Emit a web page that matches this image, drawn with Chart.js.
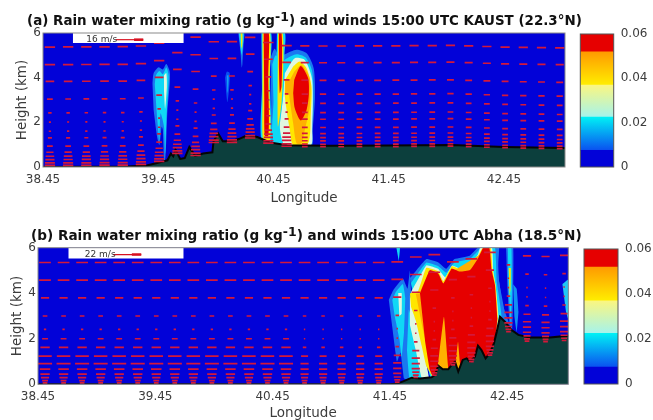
<!DOCTYPE html>
<html>
<head>
<meta charset="utf-8">
<script src="https://cdn.jsdelivr.net/npm/chart.js@4/dist/chart.umd.min.js"></script>
<style>
body { margin: 0; background: #fff; width: 653px; height: 420px; overflow: hidden; position: relative; }
.box { position: absolute; }
canvas { filter: blur(0.4px); }
.ttl { position: absolute; white-space: nowrap; font: bold 13.6px "DejaVu Sans"; color: #111; filter: blur(0.25px); }
.ttl span { font-size: 12.5px; position: relative; top: -4px; }
</style>
</head>
<body>
<div class="ttl" style="left:27px;top:13px;font-size:13.45px">(a) Rain water mixing ratio (g kg<span>-1</span>) and winds 15:00 UTC KAUST (22.3°N)</div>
<div class="ttl" style="left:31px;top:227px;font-size:13.62px">(b) Rain water mixing ratio (g kg<span>-1</span>) and winds 15:00 UTC Abha (18.5°N)</div>
<div class="box" style="left:0;top:0;width:575px;height:205px"><canvas id="mainA"></canvas></div>
<div class="box" style="left:575px;top:0;width:78px;height:205px"><canvas id="barA"></canvas></div>
<div class="box" style="left:0;top:215px;width:579px;height:205px"><canvas id="mainB"></canvas></div>
<div class="box" style="left:579px;top:215px;width:74px;height:205px"><canvas id="barB"></canvas></div>
<script>
const lonTicks = [38.45, 39.45, 40.45, 41.45, 42.45];
const heightTicks = [0, 2, 4, 6];
const cbarTicks = [0, 0.02, 0.04, 0.06];

// colorbar bands, bottom to top, each one a gradient
const cbarTops = [0.0075, 0.0225, 0.037, 0.052, 0.06];
const cbarLow = ['#0202d8', '#0a50f0', '#a5f3ec', '#ffee00', '#e60000'];
const cbarHigh = ['#0202d8', '#00f0f5', '#fbf680', '#ff9a00', '#e60000'];

// terrain
const terrainLonA = [38.45, 39.18, 39.35, 39.44, 39.53, 39.56, 39.58, 39.60, 39.64, 39.68, 39.72, 39.77, 39.84, 39.92, 39.93, 39.97, 40.01, 40.07, 40.15, 40.22, 40.31, 40.42, 40.57, 40.94, 41.45, 42.0, 42.45, 42.98];
const terrainHgtA = [0, 0.02, 0.07, 0.18, 0.3, 0.6, 0.48, 0.78, 0.36, 0.4, 0.9, 0.5, 0.6, 0.66, 1.15, 1.5, 1.15, 1.15, 1.25, 1.42, 1.34, 1.1, 0.97, 0.95, 0.96, 0.98, 0.9, 0.85];
const terrainLonB = [38.45, 41.45, 41.52, 41.578, 41.635, 41.706, 41.805, 41.834, 41.862, 41.9, 41.947, 41.976, 42.004, 42.032, 42.07, 42.103, 42.132, 42.174, 42.2, 42.23, 42.265, 42.3, 42.336, 42.36, 42.388, 42.43, 42.487, 42.544, 42.643, 42.814, 42.98];
const terrainHgtB = [0, 0, 0.04, 0.16, 0.29, 0.26, 0.31, 0.41, 0.82, 0.66, 0.66, 0.85, 1.0, 0.56, 1.07, 1.14, 1.0, 1.21, 1.7, 1.5, 1.14, 1.36, 1.8, 2.31, 2.97, 2.75, 2.38, 2.17, 2.06, 2.06, 2.14];

// wind rows
const windLons = [38.51, 38.668, 38.826, 38.984, 39.142, 39.3, 39.458, 39.616, 39.774, 39.932, 40.09, 40.248, 40.406, 40.564, 40.722, 40.88, 41.038, 41.196, 41.354, 41.512, 41.67, 41.828, 41.986, 42.144, 42.302, 42.46, 42.618, 42.776, 42.934];
const levelsA = [5.37, 4.58, 3.83, 3.04, 2.42, 2.01, 1.6, 1.3, 0.93, 0.66, 0.48, 0.33, 0.18, 0.07];
const speedWestA = [0.09, 0.09, 0.075, 0.05, 0.03, 0.018, 0.02, 0.035, 0.05, 0.063, 0.075, 0.08, 0.087, 0.09];
const speedEastA = [0.08, 0.08, 0.07, 0.06, 0.055, 0.05, 0.05, 0.05, 0.05, 0.05, 0.05, 0.05, 0.05, 0.05];
const levelsB = [5.35, 4.58, 3.8, 3.0, 2.41, 2.0, 1.62, 1.24, 0.91, 0.67, 0.45, 0.29, 0.16, 0.06];
const speedWestB = [0.1, 0.1, 0.07, 0.04, 0.02, 0.05, 0.08, 0.115, 0.12, 0.09, 0.08, 0.07, 0.05, 0.04];
const speedEastB = [0.1, 0.1, 0.07, 0.03, 0.012, 0.012, 0.03, 0.06, 0.07, 0.07, 0.07, 0.06, 0.05, 0.04];

// rain outlines, lon / height pairs
const a1Outer = [[39.40,3.75],[39.41,4.2],[39.45,4.46],[39.49,4.37],[39.52,4.61],[39.55,4.27],[39.55,3.75],[39.53,2.55],[39.52,1.21],[39.51,0.31],[39.50,0.31],[39.49,1.66],[39.48,1.8],[39.46,0.99],[39.44,1.36],[39.41,2.55]];
const a1Cyan = [[39.42,3.7],[39.43,4.1],[39.46,4.3],[39.49,4.15],[39.52,4.45],[39.54,4.1],[39.535,3.4],[39.52,2.0],[39.51,0.6],[39.50,1.8],[39.47,2.4],[39.46,1.2],[39.44,2.2]];
const a1Core = [[39.50,4.1],[39.52,4.2],[39.525,3.6],[39.51,2.6],[39.50,3.4]];
const a2Outer = [[40.03,4.0],[40.045,4.27],[40.07,4.2],[40.065,3.5],[40.05,2.9],[40.04,3.3]];
const a2Cyan = [[40.045,4.1],[40.06,4.1],[40.055,3.4],[40.05,3.3]];
const a3Outer = [[40.145,6],[40.195,6],[40.19,5.5],[40.18,4.6],[40.175,4.45],[40.165,5.1]];
const a3Cyan = [[40.15,6],[40.19,6],[40.18,5.2],[40.172,5]];
const a3Core = [[40.165,6],[40.18,6],[40.178,5.3],[40.17,5.4]];
const colOneCyan = [[40.345,6],[40.43,6],[40.42,4.2],[40.43,2],[40.43,1.15],[40.345,1.2],[40.35,3.5]];
const colOneYellow = [[40.355,6],[40.42,6],[40.415,3.5],[40.42,1.2],[40.36,1.2],[40.355,3]];
const colOneRed = [[40.365,6],[40.41,6],[40.405,4],[40.41,2.5],[40.405,1.4],[40.375,1.4],[40.37,3]];
const cloudOuter = [[40.425,4.9],[40.46,5.3],[40.5,4.95],[40.55,5.05],[40.65,5.25],[40.74,5.08],[40.80,4.4],[40.81,3.1],[40.79,1.6],[40.78,0.95],[40.45,1.0],[40.43,3]];
const cloudCyan = [[40.44,4.6],[40.47,5.0],[40.52,4.7],[40.56,4.85],[40.65,5.05],[40.73,4.9],[40.785,4.3],[40.795,3.1],[40.78,1.6],[40.77,0.95],[40.46,1.0],[40.45,3]];
const cloudPale = [[40.549,4.2],[40.635,4.87],[40.722,4.79],[40.786,3.9],[40.786,1.66],[40.774,0.98],[40.549,0.98],[40.505,1.8],[40.534,3.15]];
const cloudYellow = [[40.621,4.5],[40.679,4.72],[40.737,4.42],[40.78,3.6],[40.774,2.4],[40.751,1.06],[40.621,0.98],[40.592,1.66],[40.549,3.15],[40.55,3.9]];
const cloudBlock = [[40.552,3.9],[40.635,3.9],[40.635,3.23],[40.552,3.23]];
const cloudOrange = [[40.63,4.27],[40.693,4.57],[40.765,3.97],[40.765,2.7],[40.722,1.66],[40.693,1.06],[40.65,1.06],[40.621,1.96],[40.592,3.0],[40.578,3.75]];
const cloudRed = [[40.63,3.9],[40.687,4.52],[40.751,3.97],[40.757,3.23],[40.737,2.55],[40.687,2.08],[40.635,2.63],[40.621,3.3]];
const colTwoCyan = [[40.48,6],[40.55,6],[40.545,5],[40.53,3],[40.49,1.5],[40.47,3]];
const colTwoYellow = [[40.49,6],[40.53,6],[40.535,4.5],[40.52,2.9],[40.49,1.8],[40.485,3]];
const colTwoRed = [[40.497,6],[40.52,6],[40.525,4.8],[40.52,3.6],[40.505,3.3],[40.497,4.5]];

const leftOuter = [[41.44,3.7],[41.48,4.15],[41.56,4.65],[41.6,4.2],[41.62,5.0],[41.63,4.1],[41.66,2.5],[41.72,1.3],[41.78,0.3],[41.6,0.2],[41.57,0.25],[41.54,1.4],[41.51,1.0],[41.47,2.5]];
const leftCyan = [[41.47,3.7],[41.5,4.05],[41.56,4.4],[41.58,3.8],[41.57,2.3],[41.55,1.2],[41.53,2.0],[41.49,3.0]];
const leftCore = [[41.52,4.0],[41.55,4.0],[41.55,3.1],[41.53,3.0]];
const topSpike = [[41.505,6],[41.535,6],[41.525,5.4]];
const lowCyan = [[41.61,3.3],[41.63,3.0],[41.68,2.2],[41.72,1.3],[41.76,0.3],[41.62,0.2],[41.595,1.5]];
const lowPale = [[41.62,3.9],[41.66,3.3],[41.72,2],[41.76,0.9],[41.78,0.3],[41.72,0.3],[41.67,1.5],[41.62,2.6]];
const stormBlue = [[41.62,4.65],[41.76,5.5],[41.86,5.36],[41.93,5.07],[42.0,5.5],[42.13,5.65],[42.2,6],[42.36,6],[42.38,4.5],[42.44,2.7],[42.3,1],[41.8,0.3],[41.76,1.2],[41.7,2.5]];
const stormCyan = [[41.63,4.45],[41.76,5.35],[41.86,5.2],[41.93,4.9],[42.0,5.35],[42.13,5.5],[42.2,5.85],[42.22,6],[42.345,6],[42.36,4.5],[42.4,3],[42.3,1],[41.8,0.3],[41.76,1.2],[41.7,2.6]];
const stormPale = [[41.63,4.05],[41.76,5.22],[41.86,5.07],[41.92,4.7],[41.98,5.22],[42.05,5.08],[42.13,5.2],[42.2,5.7],[42.22,6],[42.32,6],[42.33,5],[42.35,4.36],[42.375,2.9],[42.3,1],[41.82,0.33],[41.76,1.5],[41.7,2.8],[41.64,3.5]];
const stormYellow = [[41.62,4.0],[41.69,4.1],[41.76,5.12],[41.862,4.97],[41.905,4.53],[41.976,5.19],[42.047,5.05],[42.132,5.12],[42.2,5.63],[42.24,6],[42.31,6],[42.325,5.02],[42.35,4.36],[42.37,2.9],[42.3,1],[42.06,0.6],[41.82,0.3],[41.76,0.8],[41.72,1.7],[41.67,2.8],[41.63,3.4]];
const stormOrange = [[41.67,3.98],[41.7,4.0],[41.79,4.97],[41.9,4.4],[42.0,5.0],[42.3,5.9],[42.32,5.0],[42.36,2.9],[42.3,1],[41.83,0.4],[41.79,1.1],[41.74,2.2],[41.7,3.2]];
const stormRed = [[41.706,3.99],[41.79,5.02],[41.862,4.87],[41.905,4.43],[41.976,5.09],[42.047,4.95],[42.132,5.02],[42.2,5.53],[42.245,6],[42.297,6],[42.316,5.02],[42.345,4.36],[42.365,2.9],[42.345,1.8],[42.3,1.0],[42.06,0.6],[42.03,1.87],[42.0,0.6],[41.95,0.6],[41.91,2.97],[41.85,0.5],[41.82,0.33],[41.79,0.63],[41.75,1.87]];
const stripCyan = [[42.33,6],[42.38,6],[42.37,5],[42.41,3.5],[42.47,2.6],[42.44,2.7],[42.38,3.9]];
const stripTwo = [[42.5,4.4],[42.53,4.2],[42.545,3.2],[42.53,2.3],[42.51,3.0]];
const columnOuter = [[42.44,6],[42.5,6],[42.5,4.0],[42.49,2.1],[42.47,2.6],[42.45,4.4]];
const columnCyan = [[42.455,6],[42.485,6],[42.49,4.2],[42.48,2.7],[42.46,4.3]];
const columnYellow = [[42.462,5.1],[42.48,5.1],[42.478,4.2],[42.47,3.9]];
const edgeCloud = [[42.92,4.4],[42.97,4.6],[42.98,2.7],[42.95,3.2]];

// blues to reds, taken from the colorbar
const BLUE = '#1a78f0', CYAN = '#10d8f5', PALE = '#e0f7e0', YEL = '#ffe600', ORG = '#ffb000', RED = '#e60000';
const rainA = [[a1Outer, BLUE], [a1Cyan, CYAN], [a1Core, PALE], [a2Outer, '#0a50f0'], [a2Cyan, '#10a0f5'],
    [a3Outer, BLUE], [a3Cyan, CYAN], [a3Core, YEL],
    [cloudOuter, BLUE], [cloudCyan, CYAN], [cloudPale, PALE], [cloudYellow, YEL], [cloudBlock, ORG], [cloudOrange, ORG], [cloudRed, RED],
    [colOneCyan, CYAN], [colOneYellow, YEL], [colOneRed, RED], [colTwoCyan, CYAN], [colTwoYellow, YEL], [colTwoRed, RED]];
const rainB = [[topSpike, CYAN], [leftOuter, BLUE], [leftCyan, CYAN], [leftCore, PALE], [stripCyan, BLUE], [stripTwo, '#1090f5'],
    [columnOuter, BLUE], [columnCyan, CYAN], [columnYellow, YEL], [edgeCloud, '#20c8f5'],
    [stormBlue, BLUE], [stormCyan, CYAN], [lowCyan, CYAN], [lowPale, PALE], [stormPale, PALE], [stormYellow, YEL], [stormOrange, ORG], [stormRed, RED]];

const tickColor = '#3c3c3c';

function terrainAt(lon, lons, hgts) {
    for (let i = 1; i < lons.length; i++) {
        if (lon <= lons[i]) {
            let f = (lon - lons[i - 1]) / (lons[i] - lons[i - 1]);
            return hgts[i - 1] + f * (hgts[i] - hgts[i - 1]);
        }
    }
    return hgts[hgts.length - 1];
}

// the model levels follow the ground, so each row is lifted by the terrain below it
function buildWind(levels, west, east, split, tLon, tHgt) {
    let pts = [];
    windLons.forEach(lon => {
        let ground = terrainAt(lon, tLon, tHgt);
        levels.forEach((lev, i) => {
            let y = lev + ground * 0.88;
            let len = lon < split ? west[i] : east[i];
            pts.push({ x: lon - len / 2, y: y }, { x: lon + len / 2, y: y }, { x: NaN, y: NaN });
        });
    });
    return pts;
}

function createPanel(id, cfg) {
    let ds = [];
    cfg.rain.forEach(r => {
        ds.push({ data: r[0].map(p => ({ x: p[0], y: p[1] })), showLine: true, fill: 'shape', backgroundColor: r[1], borderWidth: 0, pointRadius: 0, tension: cfg.tension });
    });
    ds.push({ data: cfg.terrainLon.map((x, i) => ({ x: x, y: cfg.terrainHgt[i] })), showLine: true, fill: 'origin', backgroundColor: '#0c3f3d', borderColor: '#050505', borderWidth: 2, pointRadius: 0 });
    ds.push({ data: cfg.wind, showLine: true, borderColor: '#d4183a', borderWidth: 1.7, pointRadius: 0 });
    // white key box and its arrow
    ds.push({ data: cfg.keyBox.map(p => ({ x: p[0], y: p[1] })), showLine: true, fill: 'shape', backgroundColor: '#fff', borderWidth: 0, pointRadius: 0 });
    ds.push({ data: cfg.keyArrow.map(p => ({ x: p, y: cfg.keyY })), showLine: true, borderColor: '#d81020', borderWidth: 1.2, pointRadius: 0 });
    ds.push({ data: cfg.keyHead.map(p => ({ x: p, y: cfg.keyY })), showLine: true, borderColor: '#d81020', borderWidth: 2.6, pointRadius: 0 });
    ds.forEach((d, i) => { d.order = ds.length - i; });

    let framePlugin = {
        id: 'frame',
        beforeDatasetsDraw(chart) {
            let a = chart.chartArea;
            chart.ctx.fillStyle = '#0202d8';
            chart.ctx.fillRect(a.left, a.top, a.width, a.height);
        },
        afterDatasetsDraw(chart) {
            let a = chart.chartArea, ctx = chart.ctx;
            ctx.strokeStyle = '#8a8a8a';
            ctx.lineWidth = 1;
            ctx.strokeRect(a.left, a.top, a.width, a.height);
            ctx.fillStyle = '#333';
            ctx.font = '9px "DejaVu Sans"';
            ctx.textAlign = 'center';
            ctx.textBaseline = 'middle';
            ctx.fillText(cfg.keyText, chart.scales.x.getPixelForValue(cfg.keyTextLon), chart.scales.y.getPixelForValue(cfg.keyY));
        }
    };

    new Chart(document.getElementById(id), {
        type: 'scatter',
        data: { datasets: ds },
        plugins: [framePlugin],
        options: {
            responsive: true,
            maintainAspectRatio: false,
            animation: false,
            layout: { padding: { top: cfg.top, right: cfg.right, left: cfg.padLeft, bottom: 0 } },
            plugins: { legend: { display: false }, tooltip: { enabled: false } },
            scales: {
                x: {
                    type: 'linear', min: 38.45, max: cfg.maxLon,
                    grid: { display: false, drawTicks: false },
                    border: { display: false },
                    afterBuildTicks: s => { s.ticks = lonTicks.map(v => ({ value: v })); },
                    afterFit: s => { s.height = cfg.xHeight; },
                    ticks: { color: tickColor, font: { family: 'DejaVu Sans', size: 12 }, padding: cfg.xPad, maxRotation: 0, callback: v => v.toFixed(2) },
                    title: { display: true, text: 'Longitude', color: tickColor, font: { family: 'DejaVu Sans', size: 13.5 }, padding: { top: 2, bottom: -2 } }
                },
                y: {
                    min: 0, max: 6,
                    grid: { display: false, drawTicks: false },
                    border: { display: false },
                    afterBuildTicks: s => { s.ticks = heightTicks.map(v => ({ value: v })); },
                    afterFit: s => { s.width = cfg.yWidth; },
                    ticks: { color: tickColor, font: { family: 'DejaVu Sans', size: 12 }, padding: 2 },
                    title: { display: true, text: 'Height (km)', color: tickColor, font: { family: 'DejaVu Sans', size: 13.5 }, padding: { top: 0, bottom: 0 } }
                }
            }
        }
    });
}

function createColorbar(id, top, bottom, left, axisWidth) {
    let prev = 0;
    let ds = cbarTops.map((t, i) => {
        let lo = prev;
        prev = t;
        return {
            data: [t - lo], stack: 's', barPercentage: 1, categoryPercentage: 1,
            backgroundColor: ctx => {
                let y = ctx.chart.scales.y;
                // scales have no pixels until the first layout is done
                if (!y || !Number.isFinite(y.getPixelForValue(lo)) || !Number.isFinite(y.getPixelForValue(t))) return cbarLow[i];
                let g = ctx.chart.ctx.createLinearGradient(0, y.getPixelForValue(lo), 0, y.getPixelForValue(t));
                g.addColorStop(0, cbarLow[i]);
                g.addColorStop(1, cbarHigh[i]);
                return g;
            }
        };
    });
    new Chart(document.getElementById(id), {
        type: 'bar',
        data: { labels: [''], datasets: ds },
        plugins: [{
            id: 'cbarFrame',
            afterDatasetsDraw(chart) {
                let a = chart.chartArea;
                chart.ctx.strokeStyle = '#555';
                chart.ctx.lineWidth = 1;
                chart.ctx.strokeRect(a.left, a.top, a.width, a.height);
            }
        }],
        options: {
            responsive: true,
            maintainAspectRatio: false,
            animation: false,
            layout: { padding: { top: top, bottom: bottom, left: left, right: 0 } },
            plugins: { legend: { display: false }, tooltip: { enabled: false } },
            scales: {
                x: { display: false, stacked: true },
                y: {
                    position: 'right', stacked: true, min: 0, max: 0.06,
                    grid: { display: false, drawTicks: false },
                    border: { display: false },
                    afterBuildTicks: s => { s.ticks = cbarTicks.map(v => ({ value: v })); },
                    afterFit: s => { s.width = axisWidth; },
                    ticks: { color: tickColor, font: { family: 'DejaVu Sans', size: 12 }, padding: 7, callback: v => (v === 0 ? '0' : v.toFixed(2)) }
                }
            }
        }
    });
}

createPanel('mainA', {
    rain: rainA, terrainLon: terrainLonA, terrainHgt: terrainHgtA, tension: 0.25,
    wind: buildWind(levelsA, speedWestA, speedEastA, 40.6, terrainLonA, terrainHgtA),
    keyBox: [[38.71, 6], [39.67, 6], [39.67, 5.55], [38.71, 5.55]],
    keyArrow: [39.08, 39.32], keyHead: [39.24, 39.32], keyY: 5.7,
    keyText: '16 m/s', keyTextLon: 38.96,
    maxLon: 42.98, top: 33, right: 10, padLeft: 14, yWidth: 29, xHeight: 38, xPad: 6
});
createPanel('mainB', {
    rain: rainB, terrainLon: terrainLonB, terrainHgt: terrainHgtB, tension: 0.1,
    wind: buildWind(levelsB, speedWestB, speedEastB, 40.7, terrainLonB, terrainHgtB),
    keyBox: [[38.71, 6], [39.69, 6], [39.69, 5.53], [38.71, 5.53]],
    keyArrow: [39.09, 39.33], keyHead: [39.25, 39.33], keyY: 5.7,
    keyText: '22 m/s', keyTextLon: 38.98,
    maxLon: 42.97, top: 32.7, right: 10.7, padLeft: 9.5, yWidth: 28.5, xHeight: 35.7, xPad: 5
});
createColorbar('barA', 34, 38, 5.3, 39.3);
createColorbar('barB', 34, 36, 5, 35);
</script>
</body>
</html>
